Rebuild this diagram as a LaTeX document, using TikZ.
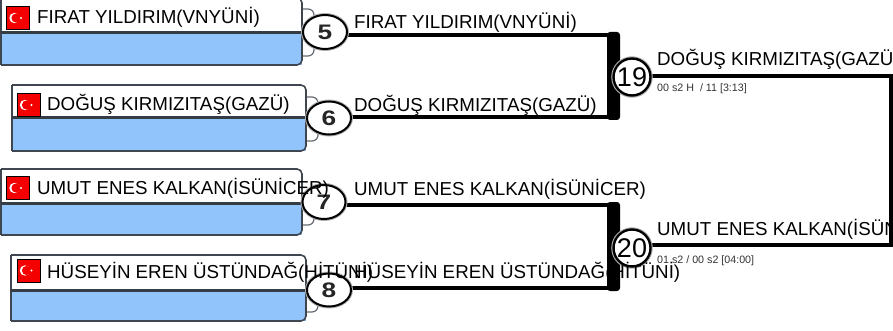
\documentclass[tikz,border=0pt]{standalone}
\usepackage{fontspec}
\setmainfont{Liberation Sans}
\usetikzlibrary{shapes.geometric,backgrounds,calc}
\definecolor{rimc}{HTML}{3F4650}
\definecolor{slotc}{HTML}{90C4FA}
\definecolor{flagred}{HTML}{F40000}
\pgfdeclareradialshading{ringshade}{\pgfpoint{0bp}{0bp}}{color(0bp)=(white); color(36bp)=(white); color(48bp)=(black!50); color(50bp)=(black!70)}
\tikzset{
  x=1pt,y=-1pt,
  plabel/.style={anchor=base west,inner sep=0pt,font=\fontsize{18.75}{20}\selectfont,text=black},
  minorlabel/.style={anchor=base west,inner sep=0pt,font=\fontsize{10.7}{12}\selectfont,text=black!80},
  wire/.style={draw=black,line width=4.5pt},
  thickbar/.style={fill=black,rounded corners=3pt},
  seedring/.style={ellipse,draw=black,line width=2pt,inner sep=0pt,shading=ringshade,
    preaction={draw=black!30,line width=4pt}},
  matchring/.style={circle,draw=black,line width=2.4pt,inner sep=0pt,minimum size=37pt,shading=ringshade,
    preaction={draw=black!30,line width=4.5pt}},
  seednum/.style={font=\fontsize{21}{24}\selectfont\bfseries,text=black!85,xscale=1.25,inner sep=0pt},
  matchnum/.style={font=\fontsize{27}{28}\selectfont,text=black,inner sep=0pt},
  rim/.style={draw=rimc,line width=1.6pt},
  hookline/.style={draw=rimc!80,line width=1.2pt},
  divider/.style={draw=rimc!85!black,line width=3pt},
  slotfill/.style={fill=slotc},
  topfill/.style={fill=white},
  flagbox/.style={fill=flagred,draw=black,line width=.5pt,minimum size=23pt,inner sep=0pt},
}
% #1 x1, #2 y1, #3 y divider, #4 x2, #5 y2
\newcommand{\pbox}[5]{%
  \path[topfill] (#1,#2) -- (#4,#2) -- (#4,#3) -- (#1,#3) -- cycle;
  \path[slotfill] (#1,#3) -- (#4,#3) -- (#4,#5) -- (#1,#5) -- cycle;
  \draw[rim,rounded corners=5pt] (#1,#2) -- (#4,#2) -- (#4,#5) -- (#1,#5);
  \draw[rim] (#1,#2) -- (#1,#5);
  \draw[divider] (#1,#3) -- (#4,#3);
}
% #1 node name, #2 centre x, #3 centre y
\newcommand{\tflag}[3]{%
  \node[flagbox] (#1) at (#2,#3) {};
  \fill[white] (#2-3.5,#3) circle[radius=5.2pt];
  \fill[flagred] (#2-2,#3) circle[radius=4.6pt];
  \fill[white] (#2+3,#3) circle[radius=1.2pt];
}
\begin{document}
\begin{tikzpicture}
\useasboundingbox (0,0) rectangle (893,331);
\clip (0,0) rectangle (893,331);

% hooks behind the seed circles
\draw[hookline,rounded corners=6pt] (302,9) -- (314,9) -- (314,56) -- (302,56);
\draw[hookline,rounded corners=6pt] (306,97) -- (318,97) -- (318,141) -- (306,141);
\draw[hookline,rounded corners=6pt] (302,205) -- (314,205) -- (314,225) -- (302,225);
\draw[hookline,rounded corners=6pt] (306,292) -- (318,292) -- (318,312) -- (306,312);

% player boxes
\pbox{1}{-2}{33}{302}{65}
\pbox{12}{85}{118}{306}{151}
\pbox{1}{169}{203}{302}{235}
\pbox{11}{255}{290}{306}{321}

% junction points
\coordinate (a19) at (613,35);
\coordinate (b19) at (613,117);
\coordinate (a20) at (613,205);
\coordinate (b20) at (613,288);
\coordinate (endT) at (891,76);
\coordinate (endB) at (891,245);

% circles
\node[seedring,minimum width=44pt,minimum height=34pt] (s5) at (325,32) {};
\node[seedring,minimum width=44pt,minimum height=33pt] (s6) at (329,118) {};
\node[seedring,minimum width=43pt,minimum height=34pt] (s7) at (324,202) {};
\node[seedring,minimum width=44pt,minimum height=33pt] (s8) at (329,290) {};
\node[matchring] (m19) at (632,77) {};
\node[matchring] (m20) at (632,248) {};

% connectors
\begin{scope}[on background layer]
  \draw[wire] (s5.east |- a19) -- (a19);
  \draw[wire] (s6.east |- b19) -- (b19);
  \draw[wire] (s7.east |- a20) -- (a20);
  \draw[wire] (s8.east |- b20) -- (b20);
  \path[thickbar] ($(a19)+(-6,-3)$) rectangle ($(b19)+(7,3)$);
  \path[thickbar] ($(a20)+(-6,-3)$) rectangle ($(b20)+(7,3)$);
  \draw[wire,line join=miter] (m19.east |- endT) -- (endT) -- (endB) -- (m20.east |- endB);
\end{scope}

% circle numbers
\node[seednum] (n5) at (s5) {5};
\node[seednum] (n6) at (s6) {6};
\node[seednum] (n7) at (s7) {7};
\node[seednum] (n8) at (s8) {8};
\node[matchnum] (n19) at (m19) {19};
\node[matchnum] (n20) at (m20) {20};

% flags
\tflag{f1}{18}{18}
\tflag{f2}{28.5}{105}
\tflag{f3}{18}{188}
\tflag{f4}{28.5}{270.5}

% texts in boxes
\node[plabel] (t1) at (37,24) {FIRAT YILDIRIM(VNYÜNİ)};
\node[plabel] (t2) at (47,111) {DOĞUŞ KIRMIZITAŞ(GAZÜ)};
\node[plabel] (t3) at (37,194) {UMUT ENES KALKAN(İSÜNİCER)};
\node[plabel] (t4) at (47,278) {HÜSEYİN EREN ÜSTÜNDAĞ(HİTÜNİ)};

% texts on lines
\node[plabel] (l1) at (354,29) {FIRAT YILDIRIM(VNYÜNİ)};
\node[plabel] (l2) at (354,112) {DOĞUŞ KIRMIZITAŞ(GAZÜ)};
\node[plabel] (l3) at (354,195) {UMUT ENES KALKAN(İSÜNİCER)};
\node[plabel] (l4) at (354,278) {HÜSEYİN EREN ÜSTÜNDAĞ(HİTÜNİ)};
\node[plabel] (w1) at (657,66) {DOĞUŞ KIRMIZITAŞ(GAZÜ)};
\node[plabel] (w2) at (657,235) {UMUT ENES KALKAN(İSÜNİCER)};
\node[minorlabel] (r1) at (657,92) {00 s2 H~ / 11 [3:13]};
\node[minorlabel] (r2) at (657,263) {01 s2 / 00 s2 [04:00]};
\end{tikzpicture}
\end{document}
